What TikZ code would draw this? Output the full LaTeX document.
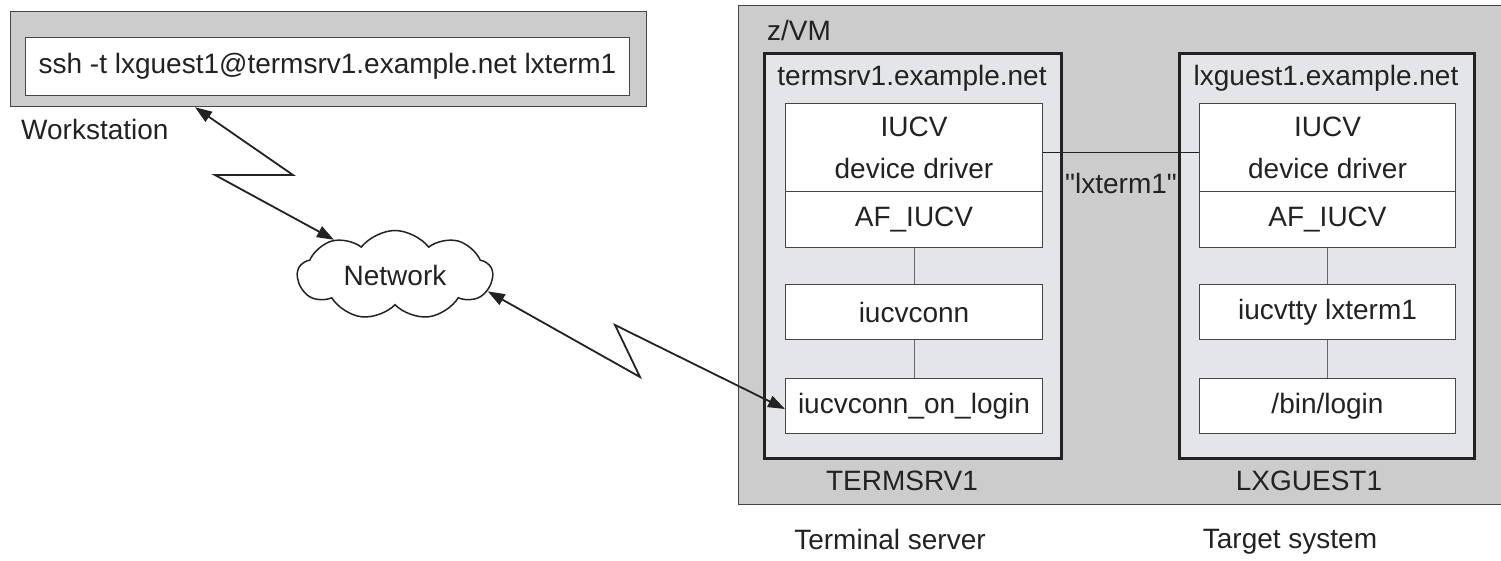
\documentclass[tikz,border=0pt]{standalone}
\usepackage{fontspec}
\setmainfont{Liberation Sans}[Ligatures=TeXOff]
\usetikzlibrary{arrows.meta,shapes.symbols}
\definecolor{zgray}{RGB}{204,204,204}
\definecolor{hostfill}{RGB}{228,229,233}
\definecolor{edgegray}{RGB}{70,70,70}
\definecolor{ink}{RGB}{34,34,34}
\begin{document}
\begin{tikzpicture}[x=1pt,y=-1pt,
  font=\fontsize{28}{42}\selectfont,
  outerbox/.style={draw=edgegray, line width=1.2pt, fill=zgray, inner sep=0pt, anchor=north west},
  hostbox/.style={draw=ink, line width=2.6pt, fill=hostfill, inner sep=0pt, anchor=north west},
  wbox/.style={draw=edgegray, line width=1pt, fill=white, inner sep=0pt, anchor=north west, text=ink, align=center},
  lbl/.style={inner sep=0pt, text=ink},
  conn/.style={draw=ink, line width=1.8pt, line join=miter,
    {Triangle[length=17pt,width=12pt]}-{Triangle[length=17pt,width=12pt]}},
  thinline/.style={draw=gray!80!black, line width=0.8pt}]
\useasboundingbox (0,0) rectangle (1501,560);

% Workstation
\node[outerbox, minimum width=636pt, minimum height=95pt] (ws) at (10,11) {};
\node[wbox, minimum width=604pt, minimum height=58pt] (cmd) at (25,37) {ssh -t lxguest1@termsrv1.example.net lxterm1};
\node[lbl, anchor=west] (wslbl) at (21,129) {Workstation};

% Network cloud
\node[cloud, draw=ink, line width=1.5pt, fill=white, cloud puffs=9, cloud puff arc=105,
  aspect=2.2, minimum width=195pt, minimum height=89pt, inner sep=0pt, text=ink] (net) at (395,275) {Network};

% z/VM
\node[outerbox, minimum width=775pt, minimum height=499pt] (zvm) at (738,5) {};
\node[lbl, anchor=west] (zvmlbl) at (767,30) {z/VM};

% Host boxes
\node[hostbox, minimum width=297pt, minimum height=405pt] (hostA) at (763,52) {};
\node[hostbox, minimum width=295pt, minimum height=405pt] (hostB) at (1178,52) {};
\node[lbl] (titleA) at (912,78) {termsrv1.example.net};
\node[lbl] (titleB) at (1326,78) {lxguest1.example.net};

% Termsrv stack
\node[wbox, minimum width=257pt, minimum height=88pt] (dd1) at (785,103) {IUCV\\device driver};
\node[wbox, minimum width=257pt, minimum height=56pt] (af1) at (785,191) {AF\_IUCV};
\node[wbox, minimum width=257pt, minimum height=55pt] (conn1) at (785,284) {iucvconn};
\node[wbox, minimum width=257pt, minimum height=55pt] (login1) at (785,378) {iucvconn\_on\_login};

% Lxguest stack
\node[wbox, minimum width=256pt, minimum height=88pt] (dd2) at (1199,103) {IUCV\\device driver};
\node[wbox, minimum width=256pt, minimum height=56pt] (af2) at (1199,191) {AF\_IUCV};
\node[wbox, minimum width=256pt, minimum height=55pt] (tty2) at (1199,284) {iucvtty lxterm1};
\node[wbox, minimum width=256pt, minimum height=55pt] (login2) at (1199,378) {/bin/login};

\draw[thinline] (af1.south) -- (conn1.north);
\draw[thinline] (conn1.south) -- (login1.north);
\draw[thinline] (af2.south) -- (tty2.north);
\draw[thinline] (tty2.south) -- (login2.north);

% IUCV path
\draw[draw=ink, line width=0.8pt] ([yshift=-5pt]dd1.east) -- ([yshift=-5pt]dd2.west);
\node[lbl] (lx) at (1121,183) {"lxterm1"};

% Bottom labels
\node[lbl] (tsv) at (902,481) {TERMSRV1};
\node[lbl] (lxg) at (1309,481) {LXGUEST1};
\node[lbl] (tsl) at (890,539) {Terminal server};
\node[lbl] (tgl) at (1290,542) {Target system};

% Network links
\draw[conn] ([xshift=185pt]ws.south west) -- (293,175) -- (215,175) -- (net.150);
\draw[conn] (net.-10) -- (640,377) -- (615,325) -- ([yshift=-3pt]login1.west);
\end{tikzpicture}
\end{document}
